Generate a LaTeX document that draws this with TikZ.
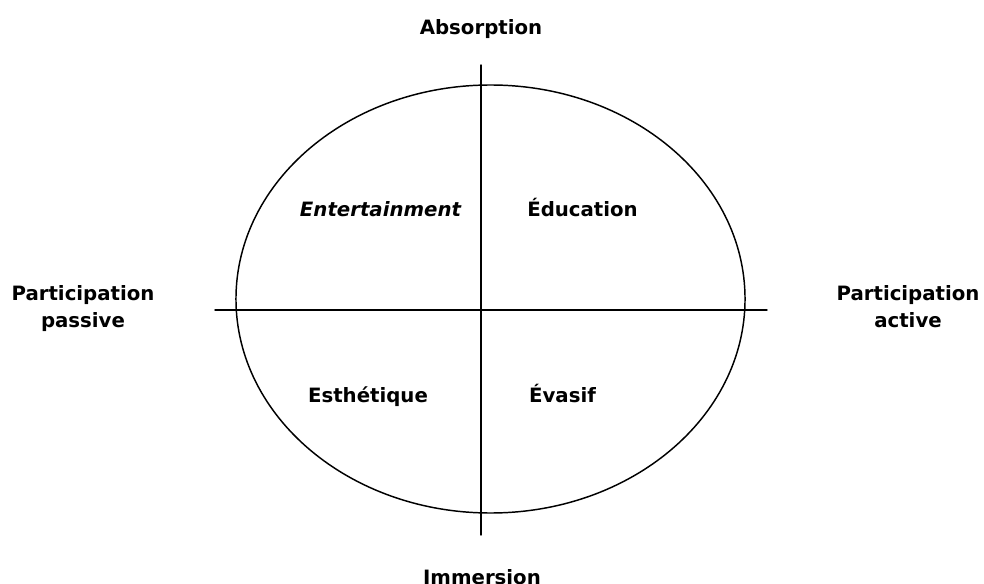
\documentclass[tikz,border=0pt]{standalone}
\usepackage{fontspec}
\setmainfont{DejaVu Sans}
\begin{document}
\begin{tikzpicture}[x=0.75pt, y=-0.75pt, font=\bfseries\fontsize{14.8}{20.25}\selectfont, line join=round, line cap=round, line width=1.1pt]
            \useasboundingbox (0,0) rectangle (984,584);
            \def\cx{490.5}\def\cy{299}\def\rx{190.9pt}\def\ry{160.5pt}
            \coordinate (top) at (481,65);
            \coordinate (bottom) at (481,535);
            \coordinate (left) at (215,310);
            \coordinate (right) at (767,310);
            \draw (\cx,\cy) ellipse [x radius=\rx, y radius=\ry];
            \draw (top)--(bottom);
            \draw (left)--(right);
            \node[anchor=base] (absorption) at (481,35) {Absorption};
            \node[anchor=base] (immersion) at (482,584) {Immersion};
            \node[anchor=base, align=center] (passive) at (83,327) {Participation\\passive};
            \node[anchor=base, align=center] (active) at (908,327) {Participation\\active};
            \node[anchor=base] (entertainment) at (380.5,217) {\itshape Entertainment};
            \node[anchor=base] (education) at (582.5,217) {Éducation};
            \node[anchor=base] (esthetique) at (368,402) {Esthétique};
            \node[anchor=base] (evasif) at (562.5,402) {Évasif};
        \end{tikzpicture}
\end{document}
